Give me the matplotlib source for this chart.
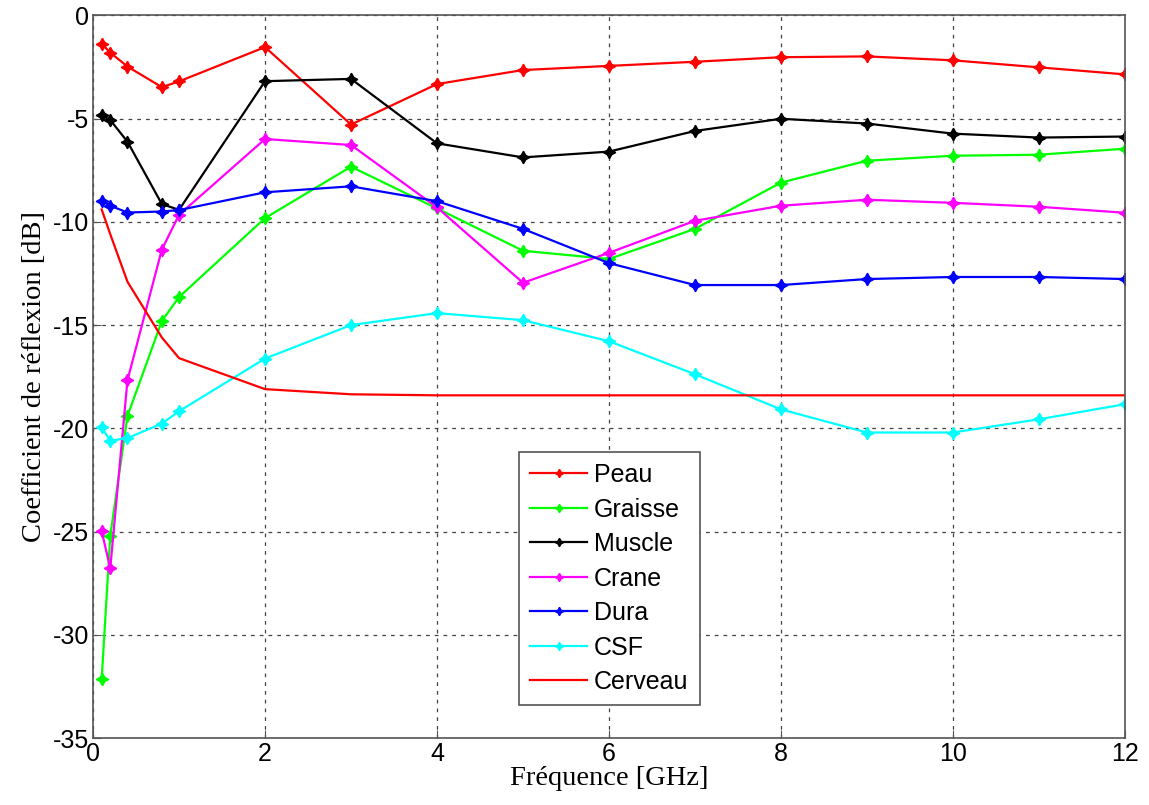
import matplotlib
matplotlib.use("Agg")
import matplotlib.pyplot as plt

plt.rcParams['axes.unicode_minus'] = False

freq = [0.1, 0.2, 0.4, 0.8, 1, 2, 3, 4, 5, 6, 7, 8, 9, 10, 11, 12]
peau = [-1.37, -1.81, -2.48, -3.48, -3.2, -1.54, -5.29, -3.33, -2.65, -2.45, -2.25, -2.03, -1.99, -2.18, -2.52, -2.86]
graisse = [-32.15, -25.2, -19.4, -14.8, -13.64, -9.82, -7.33, -9.35, -11.4, -11.8, -10.34, -8.1, -7.04, -6.8, -6.75, -6.46]
muscle = [-4.84, -5.07, -6.12, -9.14, -9.42, -3.19, -3.08, -6.2, -6.88, -6.6, -5.6, -5.01, -5.24, -5.73, -5.92, -5.87]
crane = [-24.97, -26.78, -17.67, -11.34, -9.66, -5.99, -6.28, -9.3, -12.95, -11.5, -9.95, -9.22, -8.93, -9.08, -9.27, -9.56]
dura = [-9.0, -9.22, -9.55, -9.5, -9.43, -8.57, -8.28, -9.0, -10.34, -12.0, -13.06, -13.06, -12.77, -12.67, -12.67, -12.77]
csf = [-19.95, -20.6, -20.47, -19.77, -19.17, -16.62, -15.0, -14.42, -14.76, -15.78, -17.38, -19.08, -20.2, -20.2, -19.56, -18.83]
cerveau = [-9.4, -10.6, -12.9, -15.6, -16.6, -18.1, -18.35, -18.4, -18.4, -18.4, -18.4, -18.4, -18.4, -18.4, -18.4, -18.4]

labels = ["Peau", "Graisse", "Muscle", "Crane", "Dura", "CSF", "Cerveau"]
colors = ["#ff0000", "#00ff00", "#000000", "#ff00ff", "#0000ff", "#00ffff", "#ff0000"]
series = [peau, graisse, muscle, crane, dura, csf, cerveau]

fig = plt.figure(figsize=(11.49, 8.05), dpi=100)
ax = fig.add_axes([0.081, 0.083, 0.898, 0.898])

star = (4, 1, 0)
for lab, col, ys in zip(labels, colors, series):
    if lab == "Cerveau":
        ax.plot(freq, ys, '-', color=col, lw=1.6, label=lab)
    else:
        ax.plot(freq, ys, '-', color=col, lw=1.6, marker=star, ms=9,
                markeredgewidth=1.0, label=lab)

ax.set_xlim(0, 12)
ax.set_ylim(-35, 0)
ax.set_xticks(range(0, 13, 2))
ax.set_yticks(range(-35, 1, 5))
ax.grid(True, linestyle=(0, (3, 4)), color="#444444", lw=0.9)
ax.tick_params(labelsize=18, direction='in', length=6, color="#555555", pad=3)
for t in ax.get_xticklabels() + ax.get_yticklabels():
    t.set_fontfamily("Liberation Sans")
for sp in ax.spines.values():
    sp.set_color("#555555")
    sp.set_linewidth(1.2)

ax.set_xlabel("Fréquence [GHz]", fontsize=20.5, family="Liberation Serif", labelpad=0)
ax.set_ylabel("Coefficient de réflexion [dB]", fontsize=20.5, family="Liberation Serif", labelpad=4)

leg = ax.legend(loc='upper left', bbox_to_anchor=(0.413, 0.396), borderaxespad=0,
                fancybox=False, framealpha=1, edgecolor="#555555",
                prop={'family': 'Liberation Sans', 'size': 18},
                handlelength=2.25, handletextpad=0.3, labelspacing=0.42, borderpad=0.45)
leg.get_frame().set_linewidth(1.2)
for h in leg.legend_handles:
    h.set_markersize(6)

fig.savefig("out.png", dpi=100)
